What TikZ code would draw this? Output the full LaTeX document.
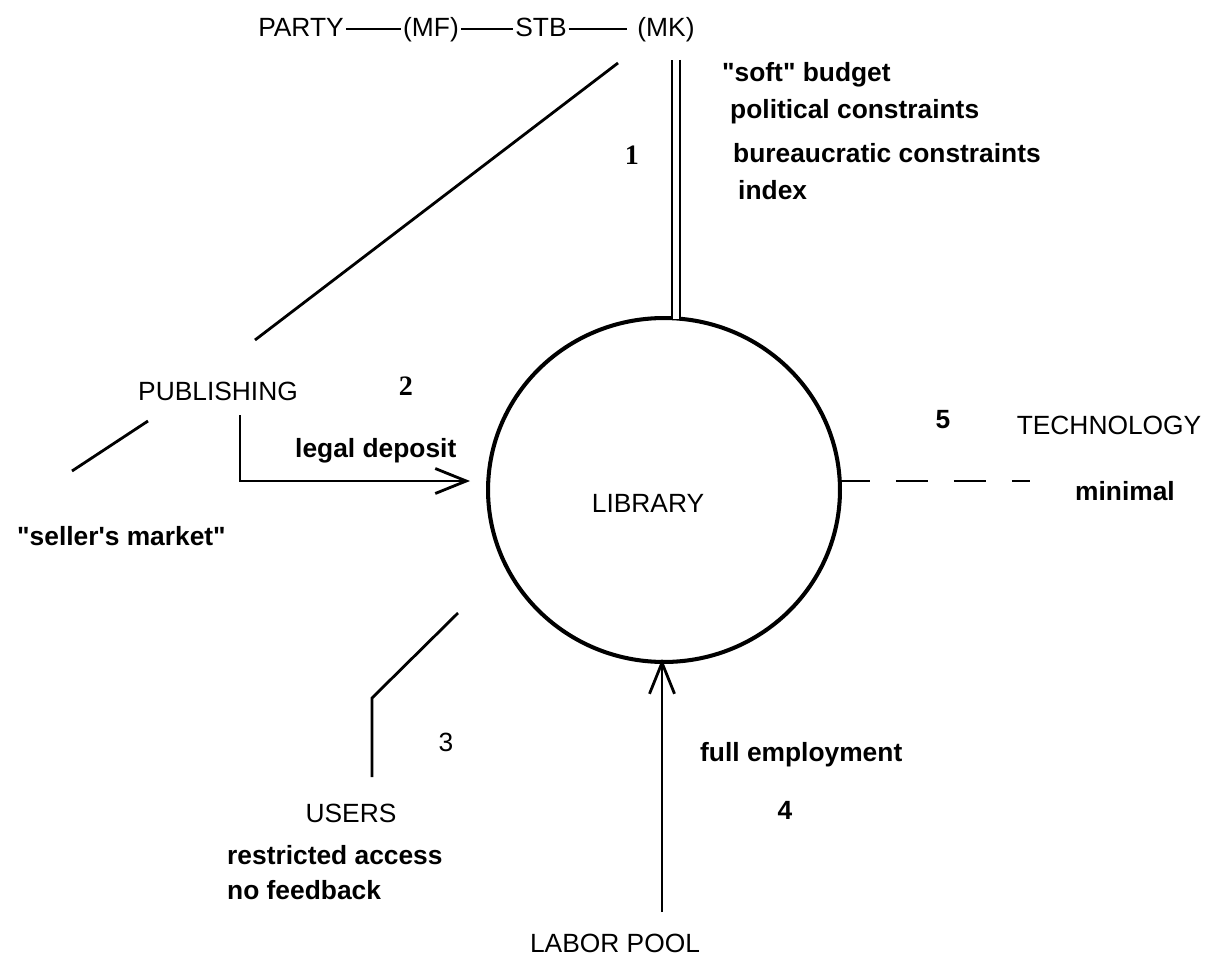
\documentclass[tikz,border=0pt]{standalone}
\usepackage{fontspec}
\setmainfont{Liberation Serif}
\setsansfont{Liberation Sans}
\usetikzlibrary{arrows.meta,shapes.geometric}

\begin{document}
\begin{tikzpicture}[x=0.02cm,y=-0.02cm,
  caps/.style={font=\sffamily\fontsize{15}{18}\selectfont},
  chain/.style={caps, inner sep=1pt, text height=11pt, text depth=3pt},
  note/.style={font=\sffamily\bfseries\fontsize{15}{18}\selectfont, anchor=west},
  num/.style={font=\rmfamily\bfseries\fontsize{16}{19}\selectfont},
  link/.style={line width=1.6pt},
  feed/.style={link, -{Straight Barb[length=0.62cm,width=0.5cm,line width=1.6pt]}}]
\useasboundingbox (0,0) rectangle (1212,956);

% the library in the middle
\node[draw, ellipse, line width=2.3pt, minimum width=7.04cm, minimum height=6.88cm, inner sep=0pt] (lib) at (664,490) {};
\node[caps] (libname) at (648,503) {LIBRARY};

% chain of command along the top
\node[chain] (party) at (301,29) {PARTY};
\node[chain] (mf) at (431,29) {(MF)};
\node[chain] (stb) at (541,29) {STB};
\node[chain] (mk) at (666,29) {(MK)};
\draw[line width=1.2pt] (party) -- (mf);
\draw[line width=1.2pt] (mf) -- (stb);
\draw[line width=1.2pt] (stb) -- ([xshift=-5pt]mk.west);

% 1: ministry of culture
\coordinate (mkout) at (676,60);
\coordinate (libtop) at (676,319);
\draw[double, double distance=3.6pt, line width=1.1pt] (mkout) -- (libtop);
\coordinate (pubtop) at (618,63);
\coordinate (pubbot) at (255,340);
\draw[link] (pubtop) -- (pubbot);
\node[num] (n1) at (632,155) {1};
\node[note] (soft) at (716,75) {\textquotedbl soft\textquotedbl{} budget};
\node[note] (polit) at (724,112) {political constraints};
\node[note] (bureau) at (727,153) {bureaucratic constraints};
\node[note] (index) at (732,190) {index};

% 2: publishing
\node[caps] (pub) at (218,391) {PUBLISHING};
\node[num] (n2) at (406,386) {2};
\coordinate (pubout) at (240,415);
\coordinate (depin) at (470,481);
\draw[feed] (pubout) |- (depin);
\node[note] (deposit) at (289,451) {legal deposit};
\coordinate (selltop) at (148,421);
\coordinate (sellbot) at (72,471);
\draw[link] (selltop) -- (sellbot);
\node[note] (seller) at (11,536) {\textquotedbl seller\textquotesingle s market\textquotedbl};

% 3: users
\coordinate (usrtop) at (458,613);
\coordinate (usrbend) at (372,698);
\coordinate (usrbot) at (372,777);
\draw[link] (usrtop) -- (usrbend) -- (usrbot);
\node[caps] (n3) at (446,742) {3};
\node[caps] (users) at (351,813) {USERS};
\node[note] (access) at (221,855) {restricted access};
\node[note] (nofeed) at (221,890) {no feedback};

% 4: labor pool
\coordinate (labout) at (662,912);
\coordinate (labin) at (662,659);
\draw[feed] (labout) -- (labin);
\node[caps] (labor) at (615,943) {LABOR POOL};
\node[note] (employ) at (694,755) {full employment};
\node[note, anchor=center] (n4) at (785,810) {4};

% 5: technology
\coordinate (techin) at (838,481);
\coordinate (techout) at (1030,481);
\draw[link, dash pattern=on 18pt off 15pt] (techin) -- (techout);
\node[note, anchor=center] (n5) at (943,420) {5};
\node[caps] (tech) at (1109,425) {TECHNOLOGY};
\node[note, anchor=center] (minimal) at (1125,491) {minimal};
\end{tikzpicture}
\end{document}
